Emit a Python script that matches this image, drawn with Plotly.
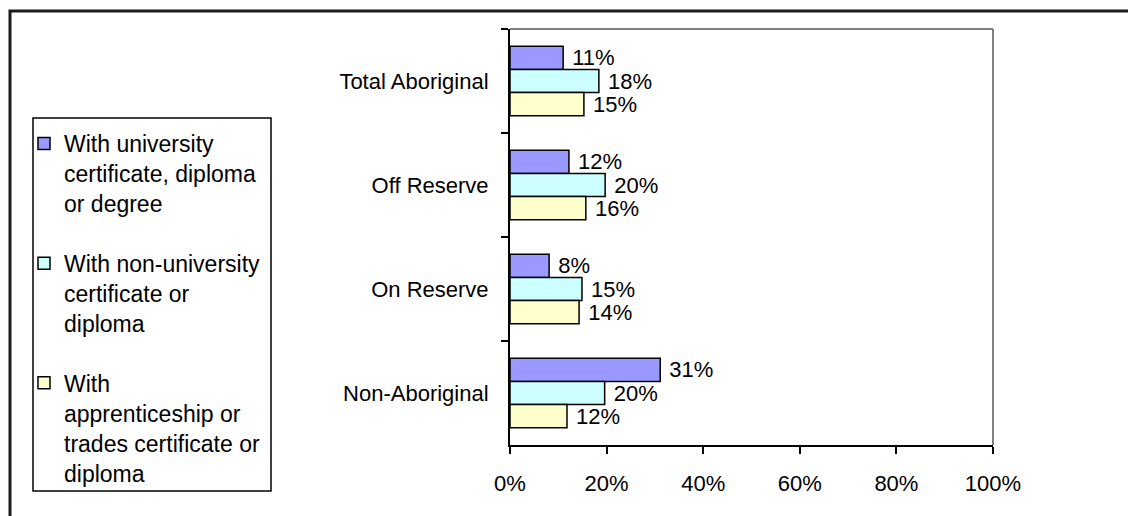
import plotly.graph_objects as go

categories = ["Total Aboriginal", "Off Reserve", "On Reserve", "Non-Aboriginal"]
university = [11.0, 12.2, 8.1, 31.1]
non_university = [18.4, 19.7, 14.9, 19.6]
trades = [15.3, 15.7, 14.3, 11.8]
series_names = [
    "With university<br>certificate, diploma<br>or degree",
    "With non-university<br>certificate or<br>diploma",
    "With<br>apprenticeship or<br>trades certificate or<br>diploma",
]
series_colors = ["#9999FF", "#CCFFFF", "#FFFFCC"]
x_ticks = [0, 20, 40, 60, 80, 100]
x_tick_labels = ["0%", "20%", "40%", "60%", "80%", "100%"]

FONT = "Liberation Sans, Arial, sans-serif"
W, H = 1128, 516
L, R, T, B = 510, 993, 29, 445

fig = go.Figure()
for i, (name, vals, col) in enumerate(zip(series_names, [university, non_university, trades], series_colors)):
    fig.add_trace(go.Bar(
        y=categories, x=vals, orientation="h", name=name,
        marker=dict(color=col, line=dict(color="black", width=1.5)),
        texttemplate=" %{x:.0f}%", textposition="outside",
        textfont=dict(family=FONT, size=22, color="black"),
        constraintext="none", cliponaxis=False,
        legendgroup=f"g{i}",
    ))

pw, ph = R - L, B - T
def px(x):
    return (x - L) / pw
def py(y):
    return (B - y) / ph

fig.update_layout(
    width=W, height=H,
    margin=dict(l=L, r=W - R, t=T, b=H - B, pad=0, autoexpand=False),
    paper_bgcolor="white", plot_bgcolor="white",
    barmode="group", bargap=0.33, bargroupgap=0,
    font=dict(family=FONT, size=22, color="black"),
    showlegend=True,
    legend=dict(
        x=px(24), y=py(122), xanchor="left", yanchor="top",
        borderwidth=0, bgcolor="rgba(0,0,0,0)",
        font=dict(family=FONT, size=23, color="black"),
        valign="top", tracegroupgap=27, itemwidth=30,
        traceorder="grouped",
    ),
    xaxis=dict(
        range=[0, 100], tickmode="array", tickvals=x_ticks, ticktext=x_tick_labels,
        showgrid=False, zeroline=False,
        showline=True, linecolor="black", linewidth=2,
        ticks="outside", ticklen=7, tickcolor="black", tickwidth=2,
        tickfont=dict(family=FONT, size=22, color="black"),
        ticklabelstandoff=11,
    ),
    yaxis=dict(
        autorange="reversed", categoryorder="array", categoryarray=categories,
        showgrid=False, zeroline=False,
        showline=True, linecolor="black", linewidth=2,
        ticks="outside", ticklen=7, tickcolor="black", tickwidth=2,
        tickson="boundaries",
        tickfont=dict(family=FONT, size=22, color="black"),
        ticklabelstandoff=15,
    ),
    shapes=[
        dict(type="line", xref="paper", yref="paper", x0=0, x1=1, y0=1, y1=1,
             line=dict(color="#808080", width=2), layer="below"),
        dict(type="line", xref="paper", yref="paper", x0=1, x1=1, y0=0, y1=1,
             line=dict(color="#808080", width=2), layer="below"),
        dict(type="rect", xref="paper", yref="paper",
             x0=px(10), x1=px(W + 20), y0=py(11), y1=py(H + 20),
             line=dict(color="#1a1a1a", width=3), layer="below"),
        dict(type="rect", xref="paper", yref="paper",
             x0=px(33), x1=px(271), y0=py(118), y1=py(491),
             line=dict(color="black", width=1.5), layer="below"),
    ],
)

fig.write_html("out.html", config={"displayModeBar": False},
               post_script="document.body.style.margin='0';")
